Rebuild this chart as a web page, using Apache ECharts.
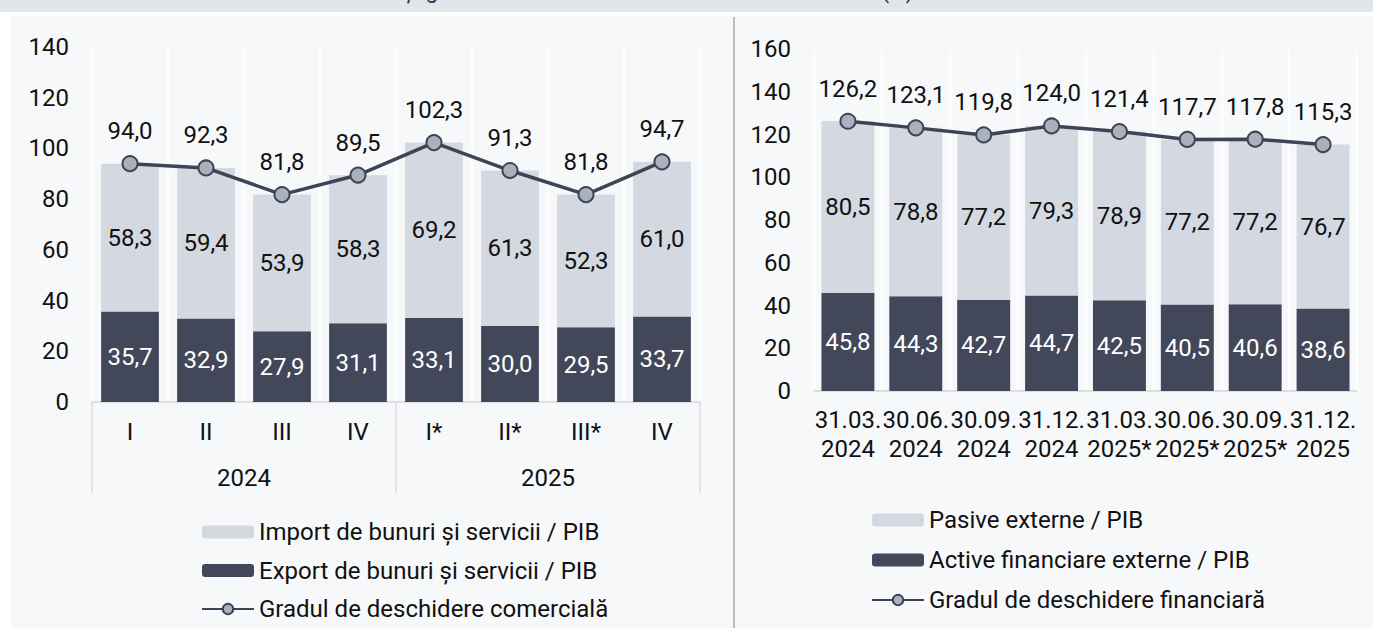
<!DOCTYPE html>
<html>
<head>
<meta charset="utf-8">
<script src="https://cdn.jsdelivr.net/npm/echarts@6/dist/echarts.min.js"></script>
<style>
html,body{margin:0;padding:0;background:#ffffff;width:1373px;height:630px;overflow:hidden;font-family:Roboto,"Noto Sans",sans-serif;}
#band{position:absolute;left:0;top:0;width:1373px;height:12px;background:#e2e5ea;overflow:hidden;}
#band span{position:absolute;left:62px;top:-21px;font-size:23px;line-height:23px;color:#333a4a;white-space:nowrap;font-family:Roboto,sans-serif;}
#panel{position:absolute;left:11px;top:16px;width:1362px;height:612px;background:#f7f8fa;}
#divider{position:absolute;left:733px;top:17px;width:2px;height:611px;background:#b9bcc1;}
#chart{position:absolute;left:0;top:0;width:1373px;height:630px;}
</style>
</head>
<body>
<div id="band"><span>Gradul de deschidere comercială și gradul de deschidere financiară a economiei (%)</span></div>
<div id="panel"></div>
<div id="divider"></div>
<div id="chart"></div>
<script>
// Left chart data
const quarters = ['I', 'II', 'III', 'IV', 'I*', 'II*', 'III*', 'IV'];
const years = ['2024', '2025'];
const exportVals = [35.7, 32.9, 27.9, 31.1, 33.1, 30.0, 29.5, 33.7];
const importVals = [58.3, 59.4, 53.9, 58.3, 69.2, 61.3, 52.3, 61.0];
const tradeOpenness = [94.0, 92.3, 81.8, 89.5, 102.3, 91.3, 81.8, 94.7];
const leftTicks = [0, 20, 40, 60, 80, 100, 120, 140];

// Right chart data
const dates = ['31.03.\n2024', '30.06.\n2024', '30.09.\n2024', '31.12.\n2024', '31.03.\n2025*', '30.06.\n2025*', '30.09.\n2025*', '31.12.\n2025'];
const assetsVals = [45.8, 44.3, 42.7, 44.7, 42.5, 40.5, 40.6, 38.6];
const liabilitiesVals = [80.5, 78.8, 77.2, 79.3, 78.9, 77.2, 77.2, 76.7];
const finOpenness = [126.2, 123.1, 119.8, 124.0, 121.4, 117.7, 117.8, 115.3];
const rightTicks = [0, 20, 40, 60, 80, 100, 120, 140, 160];

const names = {
  imp: 'Import de bunuri și servicii / PIB',
  exp: 'Export de bunuri și servicii / PIB',
  trade: 'Gradul de deschidere comercială',
  liab: 'Pasive externe / PIB',
  asset: 'Active financiare externe / PIB',
  fin: 'Gradul de deschidere financiară'
};

const FONT = 'Roboto';
const FS = 24;
const DARK = '#424759';
const LIGHT = '#d4d8e1';
const LINE = '#3e4456';
const MARK = '#a9b1bd';
const fmt = v => Number(v).toFixed(1).replace('.', ',');

const chart = echarts.init(document.getElementById('chart'), null, {renderer: 'svg'});

const yAxisCommon = {
  type: 'value',
  min: 0,
  interval: 20,
  axisLine: {show: false},
  axisTick: {show: false},
  splitLine: {show: false},
  axisLabel: {fontFamily: FONT, fontSize: FS, color: '#111', margin: 23}
};

const lineSeries = (name, data, xi, yi) => ({
  name: name,
  type: 'line',
  xAxisIndex: xi,
  yAxisIndex: yi,
  data: data,
  z: 5,
  symbol: 'circle',
  symbolSize: 15,
  lineStyle: {color: LINE, width: 3.5},
  itemStyle: {color: MARK, borderColor: LINE, borderWidth: 2},
  label: {show: true, position: 'top', distance: 12, fontFamily: FONT, fontSize: FS, color: '#111', formatter: p => fmt(p.value)},
  emphasis: {disabled: true},
  animation: false
});

const option = {
  animation: false,
  textStyle: {fontFamily: FONT},
  grid: [
    {left: 92, top: 47, width: 608, height: 355},
    {left: 814, top: 49, width: 543, height: 342}
  ],
  xAxis: [
    {
      type: 'category', gridIndex: 0, data: quarters,
      axisLine: {show: true, lineStyle: {color: '#d3d6da', width: 1.5}},
      axisTick: {show: false},
      axisLabel: {fontFamily: FONT, fontSize: FS, color: '#111', margin: 17.5, interval: 0},
      splitLine: {show: true, interval: 0, lineStyle: {color: '#ffffff', width: 1.5}}
    },
    {
      type: 'category', gridIndex: 0, data: years, position: 'bottom',
      axisLine: {show: false},
      axisTick: {show: true, interval: 0, length: 91, lineStyle: {color: '#dcdee1', width: 1.5}},
      axisLabel: {fontFamily: FONT, fontSize: FS, color: '#111', margin: 63.5, interval: 0},
      splitLine: {show: false}
    },
    {
      type: 'category', gridIndex: 1, data: dates,
      axisLine: {show: true, lineStyle: {color: '#d3d6da', width: 1.5}},
      axisTick: {show: false},
      axisLabel: {fontFamily: FONT, fontSize: FS, color: '#111', margin: 14.5, interval: 0, lineHeight: 29},
      splitLine: {show: true, interval: 0, lineStyle: {color: '#ffffff', width: 1.5}}
    }
  ],
  yAxis: [
    Object.assign({}, yAxisCommon, {gridIndex: 0, max: leftTicks[leftTicks.length - 1]}),
    Object.assign({}, yAxisCommon, {gridIndex: 1, max: rightTicks[rightTicks.length - 1]})
  ],
  legend: [
    {
      orient: 'vertical', left: 196, top: 515,
      itemWidth: 52, itemHeight: 13, itemGap: 14.5,
      data: [names.imp, names.exp, names.trade],
      textStyle: {fontFamily: FONT, fontSize: FS, color: '#111', lineHeight: 24},
      selectedMode: false
    },
    {
      orient: 'vertical', left: 866, top: 503,
      itemWidth: 52, itemHeight: 13, itemGap: 16,
      data: [names.liab, names.asset, names.fin],
      textStyle: {fontFamily: FONT, fontSize: FS, color: '#111', lineHeight: 24},
      selectedMode: false
    }
  ],
  series: [
    {
      name: names.exp, type: 'bar', stack: 'left', xAxisIndex: 0, yAxisIndex: 0,
      data: exportVals, barWidth: '76%',
      itemStyle: {color: DARK},
      label: {show: true, position: 'inside', fontFamily: FONT, fontSize: FS, color: '#ffffff', formatter: p => fmt(p.value)},
      emphasis: {disabled: true}
    },
    {
      name: names.imp, type: 'bar', stack: 'left', xAxisIndex: 0, yAxisIndex: 0,
      data: importVals, barWidth: '76%',
      itemStyle: {color: LIGHT},
      label: {show: true, position: 'inside', fontFamily: FONT, fontSize: FS, color: '#111', formatter: p => fmt(p.value)},
      emphasis: {disabled: true}
    },
    lineSeries(names.trade, tradeOpenness, 0, 0),
    {
      name: names.asset, type: 'bar', stack: 'right', xAxisIndex: 2, yAxisIndex: 1,
      data: assetsVals, barWidth: '78%',
      itemStyle: {color: DARK},
      label: {show: true, position: 'inside', fontFamily: FONT, fontSize: FS, color: '#ffffff', formatter: p => fmt(p.value)},
      emphasis: {disabled: true}
    },
    {
      name: names.liab, type: 'bar', stack: 'right', xAxisIndex: 2, yAxisIndex: 1,
      data: liabilitiesVals, barWidth: '78%',
      itemStyle: {color: LIGHT},
      label: {show: true, position: 'inside', fontFamily: FONT, fontSize: FS, color: '#111', formatter: p => fmt(p.value)},
      emphasis: {disabled: true}
    },
    lineSeries(names.fin, finOpenness, 2, 1)
  ]
};

chart.setOption(option);
</script>
</body>
</html>
